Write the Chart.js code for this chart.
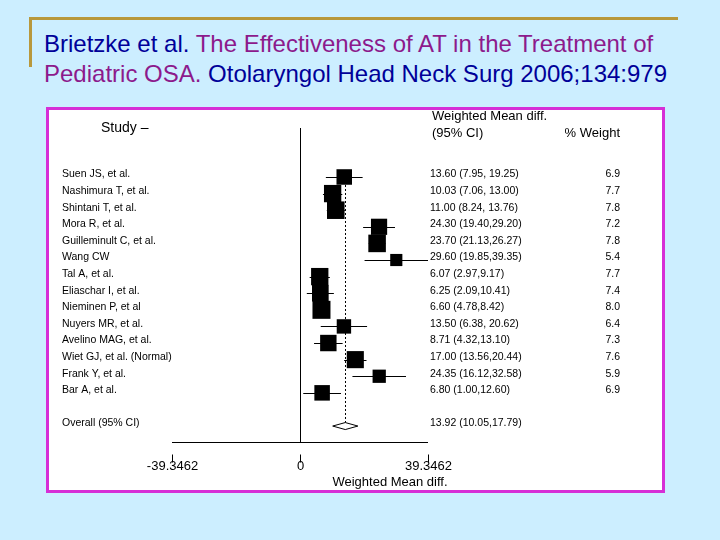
<!DOCTYPE html>
<html>
<head>
<meta charset="utf-8">
<script src="https://cdn.jsdelivr.net/npm/chart.js@4.4.1/dist/chart.umd.min.js"></script>
<style>
html,body{margin:0;padding:0;background:#CCEEFF;width:720px;height:540px;overflow:hidden;font-family:"Liberation Sans",Arial,sans-serif}
#goldH{position:absolute;left:29px;top:17px;width:649px;height:3px;background:#B8983C}
#goldV{position:absolute;left:29px;top:17px;width:3px;height:50px;background:#B8983C}
#title{position:absolute;left:44px;top:29px;font-size:24px;line-height:30px;white-space:nowrap}
.b{color:#000099}.p{color:#8C1A8C}
#box{position:absolute;left:46px;top:107px;width:613px;height:380px;border:3px solid #D62ED6;background:#fff}
#c{position:absolute;left:0;top:0}
</style>
</head>
<body>
<div id="goldH"></div><div id="goldV"></div>
<div id="title"><span class="b">Brietzke et al.</span> <span class="p">The Effectiveness of AT in the Treatment of</span><br><span class="p">Pediatric OSA.</span> <span class="b">Otolaryngol Head Neck Surg 2006;134:979</span></div>
<div id="box"></div>
<canvas id="c" width="720" height="540"></canvas>
<script>
// ---- data ----
const studies = ["Suen JS, et al.","Nashimura T, et al.","Shintani T, et al.","Mora R, et al.","Guilleminult C, et al.","Wang CW","Tal A, et al.","Eliaschar I, et al.","Nieminen P, et al","Nuyers MR, et al.","Avelino MAG, et al.","Wiet GJ, et al. (Normal)","Frank Y, et al.","Bar A, et al."];
const estimate = [13.60,10.03,11.00,24.30,23.70,29.60,6.07,6.25,6.60,13.50,8.71,17.00,24.35,6.80];
const lower    = [7.95,7.06,8.24,19.40,21.13,19.85,2.97,2.09,4.78,6.38,4.32,13.56,16.12,1.00];
const upper    = [19.25,13.00,13.76,29.20,26.27,39.35,9.17,10.41,8.42,20.62,13.10,20.44,32.58,12.60];
const weight   = [6.9,7.7,7.8,7.2,7.8,5.4,7.7,7.4,8.0,6.4,7.3,7.6,5.9,6.9];
const ciSpace  = [1,1,1,0,0,0,0,0,0,1,0,0,0,0];
const overallLabel = "Overall (95% CI)";
const overall = {est:13.92, lo:10.05, hi:17.79};
const overallRow = 15;
const xTicks = [-39.3462, 0, 39.3462];
const xTickLabels = ["-39.3462","0","39.3462"];

const FONT = '"Liberation Sans", Arial, sans-serif';
const fmt = v => v.toFixed(2);
const ciText = i => fmt(estimate[i]) + " (" + fmt(lower[i]) + "," + (ciSpace[i] ? " " : "") + fmt(upper[i]) + ")";

const forestPlugin = {
  id: 'forest',
  beforeDatasetsDraw(chart) {
    const ctx = chart.ctx, xs = chart.scales.x, ys = chart.scales.y, a = chart.chartArea;
    ctx.save();
    ctx.strokeStyle = '#000';
    ctx.lineWidth = 1;
    // zero line
    const x0 = Math.round(xs.getPixelForValue(0)) + 0.5;
    ctx.beginPath(); ctx.moveTo(x0, a.top); ctx.lineTo(x0, a.bottom); ctx.stroke();
    // axis line
    const yb = Math.round(a.bottom) + 0.5;
    ctx.beginPath(); ctx.moveTo(a.left, yb); ctx.lineTo(a.right, yb); ctx.stroke();
    // ticks + labels
    ctx.fillStyle = '#000';
    ctx.font = '13px ' + FONT;
    ctx.textAlign = 'center'; ctx.textBaseline = 'middle';
    xTicks.forEach((t, k) => {
      const px = Math.round(xs.getPixelForValue(t)) + 0.5;
      ctx.beginPath(); ctx.moveTo(px, yb + 12); ctx.lineTo(px, yb + 20); ctx.stroke();
      ctx.fillText(xTickLabels[k], px, yb + 24);
    });
    // dotted overall line
    const xo = Math.round(xs.getPixelForValue(overall.est)) + 0.5;
    ctx.setLineDash([2, 2]);
    ctx.beginPath(); ctx.moveTo(xo, ys.getPixelForValue(0)); ctx.lineTo(xo, ys.getPixelForValue(overallRow) - 3); ctx.stroke();
    ctx.setLineDash([]);
    // CI lines
    studies.forEach((s, i) => {
      const py = Math.round(ys.getPixelForValue(i)) + 0.5;
      ctx.beginPath();
      ctx.moveTo(xs.getPixelForValue(lower[i]), py);
      ctx.lineTo(xs.getPixelForValue(upper[i]), py);
      ctx.stroke();
    });
    // diamond
    const yo = ys.getPixelForValue(overallRow);
    ctx.beginPath();
    ctx.moveTo(xs.getPixelForValue(overall.lo), yo);
    ctx.lineTo(xs.getPixelForValue(overall.est), yo - 3.5);
    ctx.lineTo(xs.getPixelForValue(overall.hi), yo);
    ctx.lineTo(xs.getPixelForValue(overall.est), yo + 3.5);
    ctx.closePath();
    ctx.fillStyle = '#fff'; ctx.fill(); ctx.stroke();
    ctx.restore();
  },
  afterDatasetsDraw(chart) {
    const ctx = chart.ctx, xs = chart.scales.x, ys = chart.scales.y, a = chart.chartArea;
    ctx.save();
    ctx.fillStyle = '#000';
    ctx.textBaseline = 'middle';
    // headers
    ctx.font = '14px ' + FONT; ctx.textAlign = 'left';
    ctx.fillText('Study \u2013', 101, 128);
    ctx.font = '13px ' + FONT;
    ctx.fillText('Weighted Mean diff.', 432, 116);
    ctx.fillText('(95% CI)', 432, 133);
    ctx.textAlign = 'right';
    ctx.fillText('% Weight', 620, 133);
    // rows
    ctx.font = '10.5px ' + FONT;
    studies.forEach((s, i) => {
      const py = ys.getPixelForValue(i) - 2.5;
      ctx.textAlign = 'left';
      ctx.fillText(s, 62, py);
      ctx.fillText(ciText(i), 430, py);
      ctx.textAlign = 'right';
      ctx.fillText(weight[i].toFixed(1), 620, py);
    });
    const po = ys.getPixelForValue(overallRow) - 2.5;
    ctx.textAlign = 'left';
    ctx.fillText(overallLabel, 62, po);
    ctx.fillText(fmt(overall.est) + ' (' + fmt(overall.lo) + ',' + fmt(overall.hi) + ')', 430, po);
    // axis title
    ctx.font = '13px ' + FONT; ctx.textAlign = 'center';
    ctx.fillText('Weighted Mean diff.', 390, 482);
    ctx.restore();
  }
};

new Chart(document.getElementById('c'), {
  type: 'scatter',
  data: {
    datasets: [{
      data: studies.map((s, i) => ({x: estimate[i], y: i})),
      pointStyle: 'rect',
      pointRadius: c => weight[c.dataIndex] * 2.25 / Math.SQRT2,
      backgroundColor: '#000',
      borderColor: '#000',
      borderWidth: 0
    }]
  },
  options: {
    responsive: false,
    animation: false,
    events: [],
    layout: {padding: {left: 172, right: 292, top: 128, bottom: 98}},
    scales: {
      x: {type: 'linear', min: -39.3462, max: 39.3462, display: false},
      y: {type: 'linear', min: -2.95, max: 15.96, reverse: true, display: false}
    },
    plugins: {legend: {display: false}, tooltip: {enabled: false}}
  },
  plugins: [forestPlugin]
});
</script>
</body>
</html>
